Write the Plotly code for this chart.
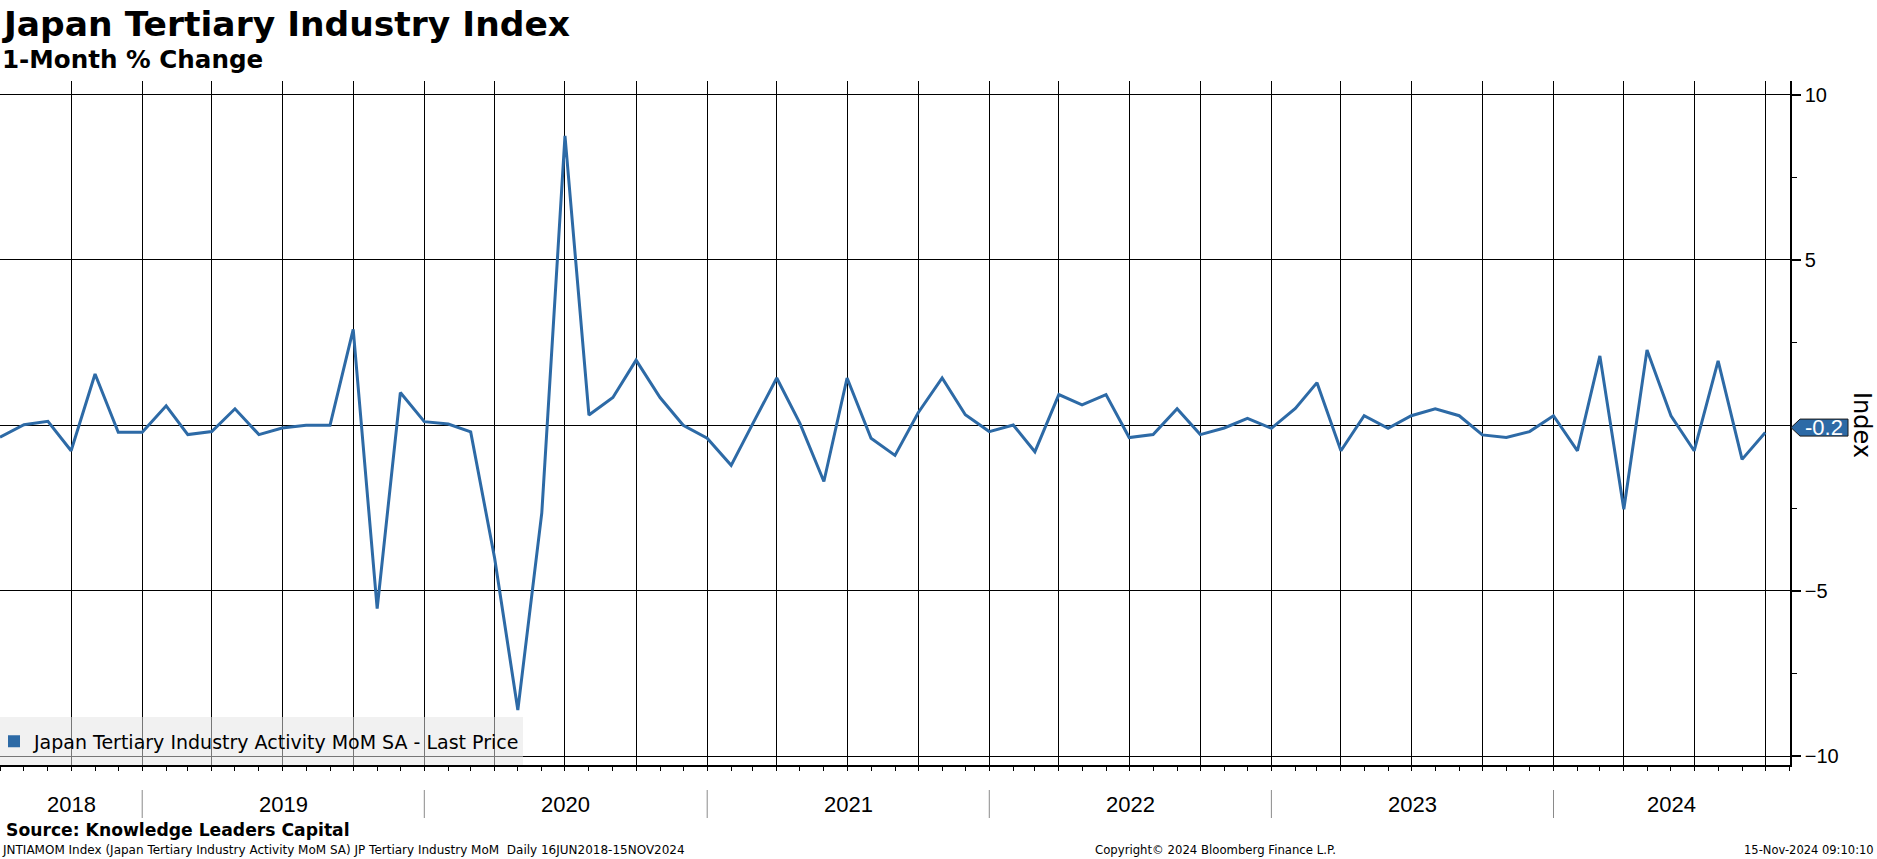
import pandas as pd
import plotly.graph_objects as go

# ---------------- data ----------------
first_month = "2018-07-01"
mom_change = [
    -0.36, 0.02, 0.12, -0.77, 1.55, -0.21,                                  # 2018 Jul-Dec
    -0.21, 0.59, -0.28, -0.19, 0.50, -0.28, -0.08, 0.00, 0.00, 2.90, -5.54, 0.99,  # 2019
    0.11, 0.04, -0.20, -4.02, -8.61, -2.65, 8.75, 0.31, 0.84, 1.97, 0.84, 0.00,    # 2020
    -0.39, -1.21, 0.05, 1.43, 0.06, -1.70, 1.43, -0.39, -0.91, 0.38, 1.43, 0.32,   # 2021
    -0.19, 0.01, -0.80, 0.93, 0.62, 0.93, -0.37, -0.28, 0.50, -0.28, -0.08, 0.21,  # 2022
    -0.09, 0.51, 1.29, -0.77, 0.29, -0.09, 0.29, 0.50, 0.29, -0.29, -0.37, -0.19,  # 2023
    0.29, -0.77, 2.10, -2.54, 2.28, 0.29, -0.77, 1.95, -1.03, -0.22,               # 2024 Jan-Oct
]
dates = pd.date_range(first_month, periods=len(mom_change), freq="MS")
last_label = "-0.2"

years = [2018, 2019, 2020, 2021, 2022, 2023, 2024]
y_tickvals = [-10, -5, 5, 10]
y_minor_vals = [-7.5, -2.5, 2.5, 7.5]

x_range = ["2018-07-01", "2024-11-02"]
y_range = [-10.27, 10.41]

title = "Japan Tertiary Industry Index"
subtitle = "1-Month % Change"
series_name = "Japan Tertiary Industry Activity MoM SA - Last Price"
source = "Source: Knowledge Leaders Capital"
footer_left = "JNTIAMOM Index (Japan Tertiary Industry Activity MoM SA) JP Tertiary Industry MoM\u00a0\u00a0Daily 16JUN2018-15NOV2024"
footer_mid = "Copyright\u00a9 2024 Bloomberg Finance L.P."
footer_right = "15-Nov-2024 09:10:10"

# ---------------- style ----------------
W, H = 1877, 859
M_L, M_R, M_T, M_B = 0, 87, 81, 94
PW, PH = W - M_L - M_R, H - M_T - M_B
BLUE = "#2d6aa6"
BOLD = "DejaVu Sans"
REG = "DejaVu Sans"
NUM = "Liberation Sans"


def px_x(px):  # paper x from pixel
    return (px - M_L) / PW


def px_y(py):  # paper y from pixel
    return (H - M_B - py) / PH


fig = go.Figure()
fig.add_trace(go.Scatter(
    x=dates, y=mom_change, mode="lines",
    line=dict(color=BLUE, width=3), showlegend=False, hoverinfo="x+y",
))
# legend entry (square swatch)
fig.add_trace(go.Scatter(
    x=[None], y=[None], mode="markers", name=series_name,
    marker=dict(symbol="square", size=12, color=BLUE), showlegend=True,
))

shapes = []
annotations = []

# legend background box (semi-transparent over gridlines)
shapes.append(dict(type="rect", xref="paper", yref="paper",
                   x0=0, x1=px_x(523), y0=0, y1=px_y(717),
                   fillcolor="rgba(228,228,228,0.52)", line=dict(width=0),
                   layer="above"))

# year separators and labels
x0 = pd.Timestamp(x_range[0])
x1 = pd.Timestamp(x_range[1])
for yr in years:
    ys = pd.Timestamp(f"{yr}-01-01")
    ye = pd.Timestamp(f"{yr + 1}-01-01")
    if x0 < ys < x1:
        shapes.append(dict(type="line", xref="x", yref="paper",
                           x0=ys, x1=ys, y0=px_y(790), y1=px_y(818),
                           line=dict(color="#8a8a8a", width=1)))
    a = max(ys, x0)
    b = min(ye, x1)
    mid = a + (b - a) / 2
    annotations.append(dict(x=mid, y=px_y(804.5), xref="x", yref="paper",
                            text=str(yr), showarrow=False, xanchor="center",
                            yanchor="middle",
                            font=dict(family=NUM, size=22, color="black")))

# last value label (pentagon pointing to the axis)
last_val = mom_change[-1]
units_per_px = (y_range[1] - y_range[0]) / PH
label_y = last_val + 5 * units_per_px
half = 8.5 * units_per_px
tip, shoulder, right = px_x(1791), px_x(1800), px_x(1848)
shapes.append(dict(
    type="path", xref="paper", yref="y",
    path=(f"M {tip} {label_y} L {shoulder} {label_y + half} "
          f"L {right} {label_y + half} L {right} {label_y - half} "
          f"L {shoulder} {label_y - half} Z"),
    fillcolor=BLUE, line=dict(color="#1a1a1a", width=1), layer="above"))
annotations.append(dict(x=px_x(1824), y=label_y, xref="paper", yref="y",
                        text=last_label, showarrow=False, xanchor="center",
                        yanchor="middle",
                        font=dict(family=NUM, size=22, color="white")))

# axis title "Index"
annotations.append(dict(x=px_x(1862), y=px_y(425), xref="paper", yref="paper",
                        text="Index", showarrow=False, textangle=90,
                        xanchor="center", yanchor="middle",
                        font=dict(family=REG, size=24, color="black")))

# titles
annotations.append(dict(x=0, y=px_y(24.3), xref="paper", yref="paper",
                        text=title, showarrow=False, xanchor="left",
                        yanchor="middle",
                        font=dict(family=BOLD, size=34.5, color="black", weight="bold")))
annotations.append(dict(x=0, y=px_y(59.2), xref="paper", yref="paper",
                        text=subtitle, showarrow=False, xanchor="left",
                        yanchor="middle",
                        font=dict(family=BOLD, size=24.6, color="black", weight="bold")))
# footer
annotations.append(dict(x=px_x(4), y=px_y(829.5), xref="paper", yref="paper",
                        text=source, showarrow=False, xanchor="left",
                        yanchor="middle",
                        font=dict(family=BOLD, size=17.2, color="black", weight="bold")))
annotations.append(dict(x=0, y=px_y(850), xref="paper", yref="paper",
                        text=footer_left, showarrow=False, xanchor="left",
                        yanchor="middle",
                        font=dict(family=REG, size=12.0, color="black")))
annotations.append(dict(x=px_x(1093), y=px_y(850), xref="paper", yref="paper",
                        text=footer_mid, showarrow=False, xanchor="left",
                        yanchor="middle",
                        font=dict(family=REG, size=11.7, color="black")))
annotations.append(dict(x=px_x(1876), y=px_y(850), xref="paper", yref="paper",
                        text=footer_right, showarrow=False, xanchor="right",
                        yanchor="middle",
                        font=dict(family=REG, size=11.5, color="black")))

fig.update_layout(
    width=W, height=H,
    margin=dict(l=M_L, r=M_R, t=M_T, b=M_B, pad=0, autoexpand=False),
    paper_bgcolor="white", plot_bgcolor="white",
    showlegend=True,
    legend=dict(x=px_x(-6), y=px_y(741.5), xanchor="left", yanchor="middle",
                bgcolor="rgba(0,0,0,0)", borderwidth=0, itemwidth=30,
                font=dict(family=REG, size=19, color="black")),
    shapes=shapes, annotations=annotations,
    xaxis=dict(
        type="date", range=x_range, dtick="M3", tick0="2018-01-01",
        showgrid=True, gridcolor="black", gridwidth=1,
        showline=True, linecolor="black", linewidth=1.5,
        ticks="outside", ticklen=4, tickcolor="black", tickwidth=1,
        showticklabels=False, zeroline=False, fixedrange=True,
        automargin=False,
        minor=dict(dtick="M1", ticks="outside", ticklen=4,
                   tickcolor="black", tickwidth=1, showgrid=False),
    ),
    yaxis=dict(
        side="right", range=y_range, tickmode="array", tickvals=y_tickvals,
        showgrid=True, gridcolor="black", gridwidth=1,
        zeroline=True, zerolinecolor="black", zerolinewidth=1,
        showline=True, linecolor="black", linewidth=1.5,
        ticks="outside", ticklen=9, tickwidth=2, tickcolor="black",
        tickfont=dict(family=NUM, size=20, color="black"),
        minor=dict(tickmode="array", tickvals=y_minor_vals, ticks="outside",
                   ticklen=5, tickcolor="black", tickwidth=1, showgrid=False),
        fixedrange=True, automargin=False,
    ),
)

fig.write_html("out.html", config={"displayModeBar": False, "responsive": False},
               post_script="document.body.style.margin='0';document.body.style.overflow='hidden';")
